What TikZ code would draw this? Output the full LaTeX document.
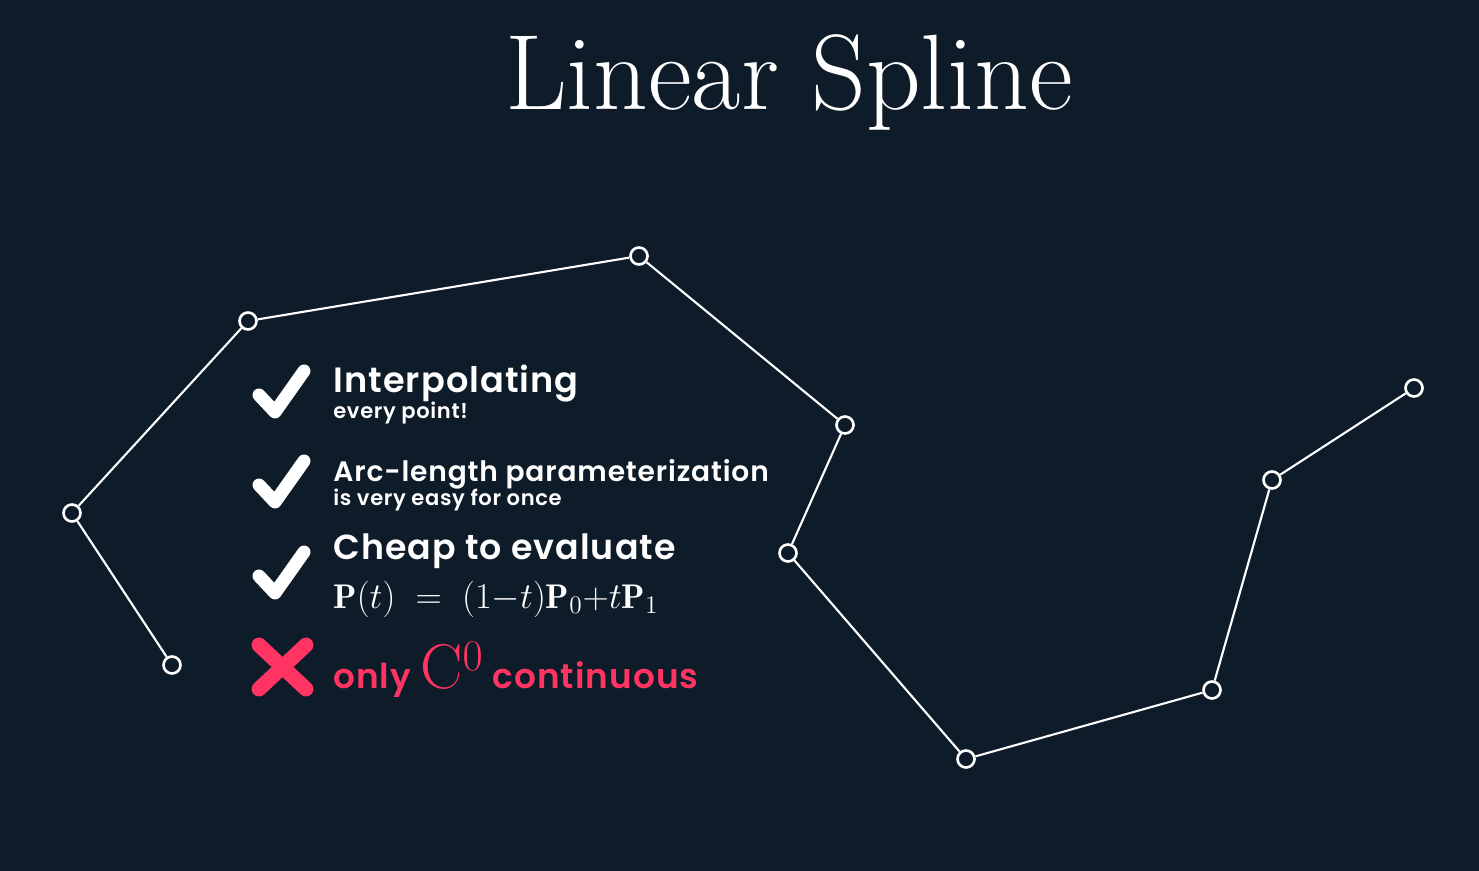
\documentclass[tikz,border=0pt]{standalone}
\usepackage{fontspec}
\setsansfont{Poppins}[BoldFont={Poppins SemiBold}, LetterSpace=3]

\begin{document}
\begin{tikzpicture}[x=0.02cm, y=-0.02cm,
    knot/.style={circle, draw=white, line width=1.5pt, fill=bgnavy, minimum size=0.34cm, inner sep=0pt},
    spline/.style={white, line width=1.2pt},
    heading/.style={anchor=base west, text=white, inner sep=0pt, font=\sffamily\bfseries\fontsize{#1}{#1}\selectfont},
    subline/.style={anchor=base west, text=white, inner sep=0pt, font=\sffamily\bfseries\fontsize{12}{14}\selectfont},
    tick/.style={white, line width=7.4pt, line cap=round, line join=round},
    crossmark/.style={crosspink, line width=8.5pt, line cap=round}]
    % Define colors
    \definecolor{bgnavy}{RGB}{14, 27, 40}
    \definecolor{crosspink}{RGB}{255, 52, 98}

    % Background
    \fill[bgnavy] (0,0) rectangle (1479,871);
    \useasboundingbox (0,0) rectangle (1479,871);

    % Title
    \node[anchor=base, text=white, inner sep=0pt, font=\fontsize{61}{63}\selectfont] (title) at (789,110) {Linear Spline};

    % Control points of the spline
    \node[knot] (p0) at (172,665) {};
    \node[knot] (p1) at (72,513) {};
    \node[knot] (p2) at (248,321) {};
    \node[knot] (p3) at (639,256) {};
    \node[knot] (p4) at (845,425) {};
    \node[knot] (p5) at (788,553) {};
    \node[knot] (p6) at (966,759) {};
    \node[knot] (p7) at (1212,690) {};
    \node[knot] (p8) at (1272,480) {};
    \node[knot] (p9) at (1414,388) {};

    % Straight segments between the points
    \draw[spline] (p0) -- (p1) -- (p2) -- (p3) -- (p4) -- (p5) -- (p6) -- (p7) -- (p8) -- (p9);

    % Pros - tick marks
    \draw[tick] (259,395) -- (275,412) -- (304,371);
    \draw[tick] (259,485) -- (275,502) -- (304,461);
    \draw[tick] (259,576) -- (275,593) -- (304,552);

    % Con - cross
    \draw[crossmark] (259,645) -- (306,689);
    \draw[crossmark] (306,645) -- (259,689);

    % Item 1
    \node[heading=20] (interp) at (333,392) {Interpolating};
    \node[subline] (interpsub) at (333,418) {every point!};

    % Item 2
    \node[heading=16] (arclen) at (333,481) {Arc-length parameterization};
    \node[subline] (arclensub) at (333,505) {is very easy for once};

    % Item 3
    \node[heading=19.8] (cheap) at (333,559) {Cheap to evaluate};
    \node[anchor=base west, text=white, inner sep=0pt, font=\fontsize{19.5}{21}\selectfont] (formula) at (333,608)
        {$\mathbf{P}(t)\;=\;(1{-}t)\mathbf{P}_0{+}t\mathbf{P}_1$};

    % Item 4
    \node[heading=19.5, text=crosspink] (cont) at (333,688)
        {only {\normalfont\fontsize{36}{36}\selectfont$\mathrm{C}^{\raisebox{1pt}{$\scriptstyle 0$}}$} continuous};

\end{tikzpicture}
\end{document}
